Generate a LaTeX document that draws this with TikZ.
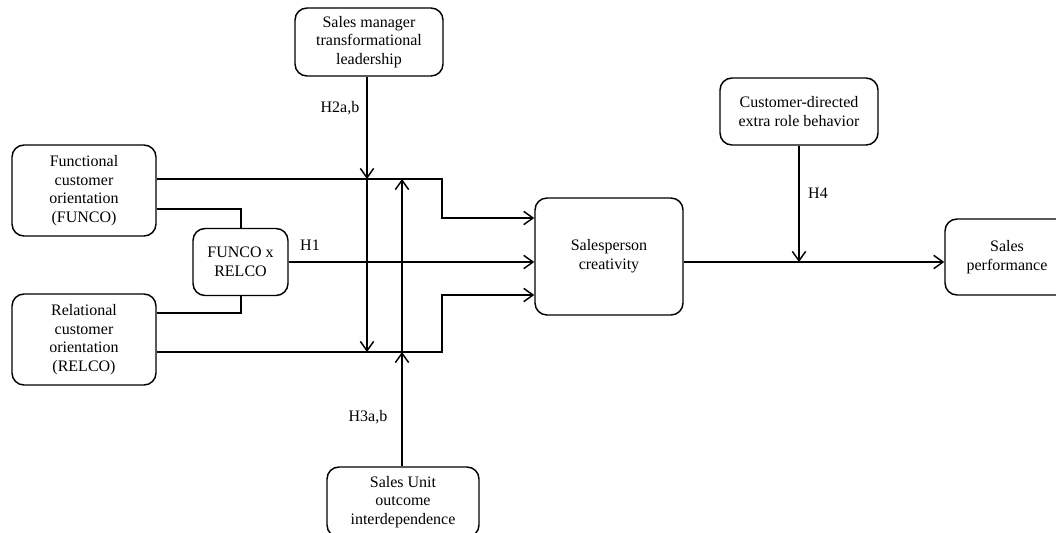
\documentclass[tikz,border=0pt]{standalone}
\usepackage{fontspec}
\setmainfont{Liberation Serif}
\usetikzlibrary{arrows.meta}
\begin{document}
\begin{tikzpicture}[x=0.75pt,y=-0.75pt,
  box/.style={draw,line width=1.1pt,rounded corners=9pt,align=center,inner sep=0pt,
    font=\fontsize{12}{14}\selectfont},
  conn/.style={line width=1.1pt},
  arr/.style={line width=1.1pt,-{Straight Barb[length=7pt,width=10pt,line width=1.1pt]}},
  lbl/.style={font=\fontsize{12}{14}\selectfont,inner sep=0pt}]
\useasboundingbox (0,0) rectangle (1056,532);
\clip (0,0) rectangle (1056,532);
% nodes
\node[box,minimum width=111pt,minimum height=51pt] (sm) at (369,42) {Sales manager\\transformational\\leadership};
\node[box,minimum width=108pt,minimum height=68.25pt] (fun) at (84,190.5) {Functional\\customer\\orientation\\(FUNCO)};
\node[box,minimum width=108pt,minimum height=68.25pt] (rel) at (84,339.5) {Relational\\customer\\orientation\\(RELCO)};
\node[box,minimum width=71.25pt,minimum height=50.25pt] (fxr) at (240.5,262) {FUNCO x\\RELCO};
\node[box,minimum width=111pt,minimum height=87.75pt] (sp) at (609,256.5) {Salesperson\\creativity};
\node[box,minimum width=118.5pt,minimum height=50.25pt] (cd) at (799,111.5) {Customer-directed\\extra role behavior};
\node[box,minimum width=93pt,minimum height=57pt] (perf) at (1007,257) {Sales\\performance};
\node[box,minimum width=114pt,minimum height=52.5pt] (su) at (403,502) {Sales Unit\\outcome\\interdependence};
% coordinates
\coordinate (t1) at (442,179);
\coordinate (b1) at (442,352);
\coordinate (a1) at (442,218);
\coordinate (a3) at (442,295);
\coordinate (m) at (0,262);
\coordinate (f2) at (241,209);
\coordinate (r2) at (241,313);
\coordinate (vl1) at (367,179);
\coordinate (vl2) at (367,352);
\coordinate (vr1) at (402,179);
\coordinate (vr2) at (402,352);
\coordinate (h4) at (799,262);
% connectors
\draw[arr] (t1 -| fun.east) -- (t1) -- (a1) -- (a1 -| sp.west);
\draw[arr] (b1 -| rel.east) -- (b1) -- (a3) -- (a3 -| sp.west);
\draw[conn] (f2 -| fun.east) -- (f2) -- (fxr.north -| f2);
\draw[conn] (r2 -| rel.east) -- (r2) -- (fxr.south -| r2);
\draw[arr] (fxr.east |- m) -- (sp.west |- m);
\draw[arr] (sp.east |- m) -- (perf.west |- m);
\draw[arr] (sm.south -| vl1) -- (vl1);
\draw[arr] (vl1) -- (vl2);
\draw[arr] (su.north -| vr2) -- (vr2);
\draw[arr] (vr2) -- (vr1);
\draw[arr] (cd.south) -- (h4);
% labels
\node[lbl] (lh2) at (340,108) {H2a,b};
\node[lbl] (lh3) at (368,417) {H3a,b};
\node[lbl] (lh1) at (310,245) {H1};
\node[lbl] (lh4) at (818,193) {H4};
\end{tikzpicture}
\end{document}
